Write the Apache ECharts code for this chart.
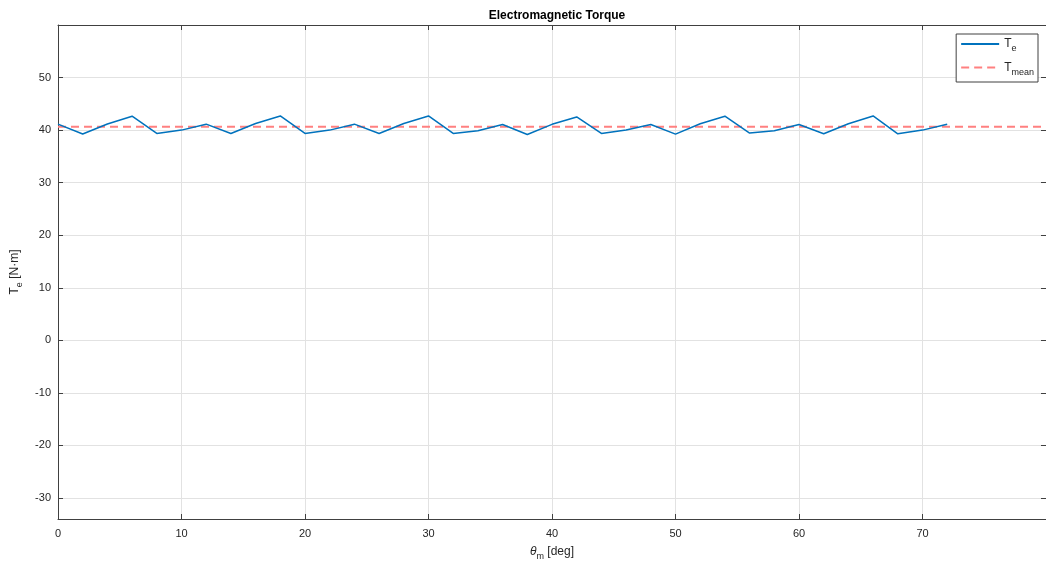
<!DOCTYPE html>
<html>
<head>
<meta charset="utf-8">
<script src="https://cdn.jsdelivr.net/npm/echarts@6/dist/echarts.min.js"></script>
<style>html,body{margin:0;padding:0;background:#fff;}#c{width:1046px;height:566px;}</style>
</head>
<body>
<div id="c"></div>
<script>
const thetaDeg = [0,2,4,6,8,10,12,14,16,18,20,22,24,26,28,30,32,34,36,38,40,42,44,46,48,50,52,54,56,58,60,62,64,66,68,70,72];
const torque = [41.13,39.25,41.15,42.65,39.36,40.0,41.13,39.36,41.25,42.7,39.36,40.0,41.13,39.36,41.25,42.7,39.36,39.87,41.06,39.17,41.1,42.5,39.36,40.0,41.06,39.24,41.2,42.65,39.43,39.87,41.06,39.3,41.2,42.7,39.3,40.0,41.13];
const meanTorque = 40.65;
const meanSpan = [0, 80];
const xRange = [0, 80];
const yRange = [-34, 60];

const teData = thetaDeg.map((x, i) => [x, torque[i]]);
const meanData = meanSpan.map(x => [x, meanTorque]);

const axisColor = '#404040';
const txtColor = '#262626';
const font = 'Liberation Sans, Arial, Helvetica, sans-serif';

const chart = echarts.init(document.getElementById('c'));
chart.setOption({
  animation: false,
  backgroundColor: '#fff',
  title: {
    text: 'Electromagnetic Torque',
    left: 552, top: 5, textAlign: 'center',
    textStyle: {fontFamily: font, fontSize: 12, fontWeight: 'bold', color: '#000'}
  },
  grid: {left: 58, top: 25, width: 992, height: 496, containLabel: false},
  legend: {
    orient: 'vertical', right: 8, top: 34,
    backgroundColor: '#fff', borderColor: axisColor, borderWidth: 1, borderRadius: 0,
    padding: [4, 4, 5, 4], itemGap: 8, itemWidth: 38, itemHeight: 14,
    itemStyle: {opacity: 0},
    textStyle: {fontFamily: font, fontSize: 12, color: txtColor,
      rich: {s: {fontFamily: font, fontSize: 9, color: txtColor, padding: [10, 0, 0, 0]}}},
    formatter: function (name) { return name === 'Te' ? 'T{s|e}' : 'T{s|mean}'; },
    data: ['Te', 'Tmean']
  },
  xAxis: [{
    type: 'value', min: xRange[0], max: xRange[1], interval: 10,
    name: '{i|θ}{s|m} [deg]', nameLocation: 'middle', nameGap: 23,
    nameTextStyle: {fontFamily: font, fontSize: 12, color: txtColor,
      rich: {i: {fontFamily: font, fontStyle: 'italic', fontSize: 12, color: txtColor},
             s: {fontFamily: font, fontSize: 9, color: txtColor, padding: [10, 0, 0, 0]}}},
    axisLine: {show: true, onZero: false, lineStyle: {color: axisColor, width: 1}},
    axisTick: {show: true, inside: true, length: 5, lineStyle: {color: axisColor}},
    axisLabel: {showMaxLabel: false, margin: 9, fontFamily: font, fontSize: 11, color: txtColor},
    splitLine: {show: true, lineStyle: {color: '#e2e2e2', width: 1}}
  }, {
    type: 'value', position: 'top', min: xRange[0], max: xRange[1], interval: 10,
    axisLine: {show: true, onZero: false, lineStyle: {color: axisColor, width: 1}},
    axisTick: {show: true, inside: true, length: 5, lineStyle: {color: axisColor}},
    axisLabel: {show: false}, splitLine: {show: false}
  }],
  yAxis: [{
    type: 'value', min: yRange[0], max: yRange[1], splitNumber: 10,
    name: 'T{s|e} [N·m]', nameLocation: 'middle', nameGap: 27, nameRotate: 90,
    nameTextStyle: {fontFamily: font, fontSize: 12, color: txtColor,
      rich: {s: {fontFamily: font, fontSize: 9, color: txtColor, padding: [10, 0, 0, 0]}}},
    axisLine: {show: true, onZero: false, lineStyle: {color: axisColor, width: 1}},
    axisTick: {show: true, inside: true, length: 5, lineStyle: {color: axisColor}},
    axisLabel: {showMinLabel: false, showMaxLabel: false, margin: 7, fontFamily: font, fontSize: 11, color: txtColor,
      formatter: function (v) { return (v % 10 === 0) ? String(v) : ''; }},
    splitLine: {show: true, lineStyle: {color: '#e2e2e2', width: 1}}
  }, {
    type: 'value', position: 'right', min: yRange[0], max: yRange[1], splitNumber: 10,
    axisLine: {show: true, onZero: false, lineStyle: {color: axisColor, width: 1}},
    axisTick: {show: true, inside: true, length: 5, lineStyle: {color: axisColor}},
    axisLabel: {show: false}, splitLine: {show: false}
  }],
  series: [{
    name: 'Te', type: 'line', data: teData, xAxisIndex: 0, yAxisIndex: 0,
    showSymbol: false, symbol: 'none', z: 3,
    lineStyle: {color: '#0072BD', width: 1.5}, itemStyle: {color: '#0072BD'}
  }, {
    name: 'Tmean', type: 'line', data: meanData, xAxisIndex: 0, yAxisIndex: 0,
    showSymbol: false, symbol: 'none', z: 2,
    lineStyle: {color: '#ff8080', width: 2, type: [8, 5]}, itemStyle: {color: '#ff8080'}
  }]
});
</script>
</body>
</html>
